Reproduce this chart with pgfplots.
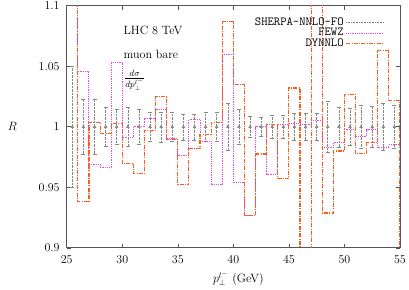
\documentclass[border=0pt,12pt]{standalone}
\usepackage{fontspec}
\usepackage{pgfplots}
\pgfplotsset{compat=1.18}
\definecolor{fewz}{RGB}{235,70,235}
\definecolor{dyn}{RGB}{255,90,25}
\definecolor{sherpa}{RGB}{135,135,135}
\definecolor{frame}{RGB}{85,85,85}

\pgfplotstableread{
x y e
25.5 1 0.050
26.5 1 0.023
27.5 1 0.023
28.5 1 0.016
29.5 1 0.0146
30.5 1 0.016
31.5 1 0.0146
32.5 1 0.012
33.5 1 0.0124
34.5 1 0.012
35.5 1 0.0107
36.5 1 0.0107
37.5 1 0.012
38.5 1 0.012
39.5 1 0.0195
40.5 1 0.0146
41.5 1 0.0083
42.5 1 0.0078
43.5 1 0.0096
44.5 1 0.0096
45.5 1 0.0115
46.5 1 0.0115
47.5 1 0.011
48.5 1 0.021
49.5 1 0.0165
50.5 1 0.0154
51.5 1 0.018
52.5 1 0.0168
53.5 1 0.0195
54.5 1 0.018
}\sherpa

\pgfplotstableread{
x y
25 1.15
26 1.046
27 0.969
28 0.966
29 1.053
30 0.991
31 1.000
32 1.0066
33 1.0146
34 0.990
35 0.976
36 1.006
37 0.988
38 0.952
39 1.060
40 0.954
41 0.927
42 1.000
43 0.961
44 1.0016
45 1.003
46 1.002
47 1.005
48 0.983
49 0.987
50 0.998
51 0.992
52 0.9975
53 0.983
54 0.985
55 0.985
}\fewz

\pgfplotstableread{
x y
25 1.15
26 0.938
27 1.0036
28 0.9948
29 1.003
30 0.970
31 0.9615
32 0.9967
33 1.0247
34 0.9898
35 0.952
36 0.9824
37 0.994
38 1.0038
39 1.0868
40 1.0346
41 0.9266
42 0.9775
43 1.002
44 0.957
45 1.032
46 0.85
47 1.15
48 0.9288
49 0.980
50 1.0267
51 0.9777
52 0.987
53 1.063
54 1.0217
55 0.85
}\dyn

\begin{document}
\fontsize{12}{14.5}\selectfont
\begin{tikzpicture}
\begin{axis}[
  scale only axis, width=333pt, height=242pt,
  xmin=25, xmax=55, ymin=0.9, ymax=1.1,
  xtick={25,30,...,55}, ytick={0.9,0.95,1,1.05,1.1},
  yticklabels={0.9,0.95,1,1.05,1.1},
  tick align=inside, major tick length=4pt,
  axis line style={frame, line width=0.8pt},
  every tick/.style={frame, line width=0.6pt},
  xticklabel style={yshift=-4pt},
  yticklabel style={xshift=-3pt},
  xlabel={$p_\perp^{l^-}$ (GeV)},
  ylabel={$R$},
  xlabel style={at={(axis description cs:0.5,0)}, anchor=center, yshift=-31pt, xshift=5pt},
  ylabel style={at={(axis description cs:-0.163,0.5)}, anchor=center, rotate=-90},
  legend plot pos=right,
  legend style={at={(rel axis cs:0.955,0.965)}, anchor=north east, draw=none, fill=none,
    font=\ttfamily\fontsize{12.3}{13}\selectfont, cells={anchor=east}, row sep=-2.5pt,
    inner sep=1pt},
  legend image code/.code={\draw (0pt,0pt) -- (37pt,0pt);},
]
\addplot[only marks, mark=triangle*, mark size=1.6pt, sherpa,
  legend image code/.code={\draw[sherpa, densely dotted, line width=0.6pt] (0pt,0pt) -- (37pt,0pt);},
  error bars/.cd, y dir=both, y explicit,
  error bar style={sherpa, densely dotted, line width=0.6pt},
  error mark options={sherpa, solid, rotate=90, mark size=2pt, line width=0.5pt}]
  table[x=x, y=y, y error=e] {\sherpa};
\addlegendentry{SHERPA-NNLO-FO\hspace{-48pt}}
\addplot[const plot, fewz, line width=1pt, dash pattern=on 1pt off 0.8pt] table[x=x,y=y] {\fewz};
\addlegendentry{FEWZ}
\addplot[const plot, dyn, line width=1.1pt, dash pattern=on 4pt off 1.3pt on 1pt off 1.3pt] table[x=x,y=y] {\dyn};
\addlegendentry{DYNNLO}
\node[anchor=west, inner sep=0pt] at (axis cs:30.1,1.0795) {LHC 8 TeV};
\node[anchor=west, inner sep=0pt] at (axis cs:30.1,1.0595) {muon bare};
\node[anchor=west, inner sep=0pt, font=\fontsize{13}{15}\selectfont] at (axis cs:30.15,1.0385) {$\frac{d\sigma}{dp_\perp^{l^-}}$};
\coordinate (sw) at (rel axis cs:0,0);
\coordinate (ne) at (rel axis cs:1,1);
\end{axis}
\pgfresetboundingbox
\path ([shift={(-66.7pt,-42pt)}]sw) rectangle ([shift={(9pt,5.7pt)}]ne);
\end{tikzpicture}
\end{document}
